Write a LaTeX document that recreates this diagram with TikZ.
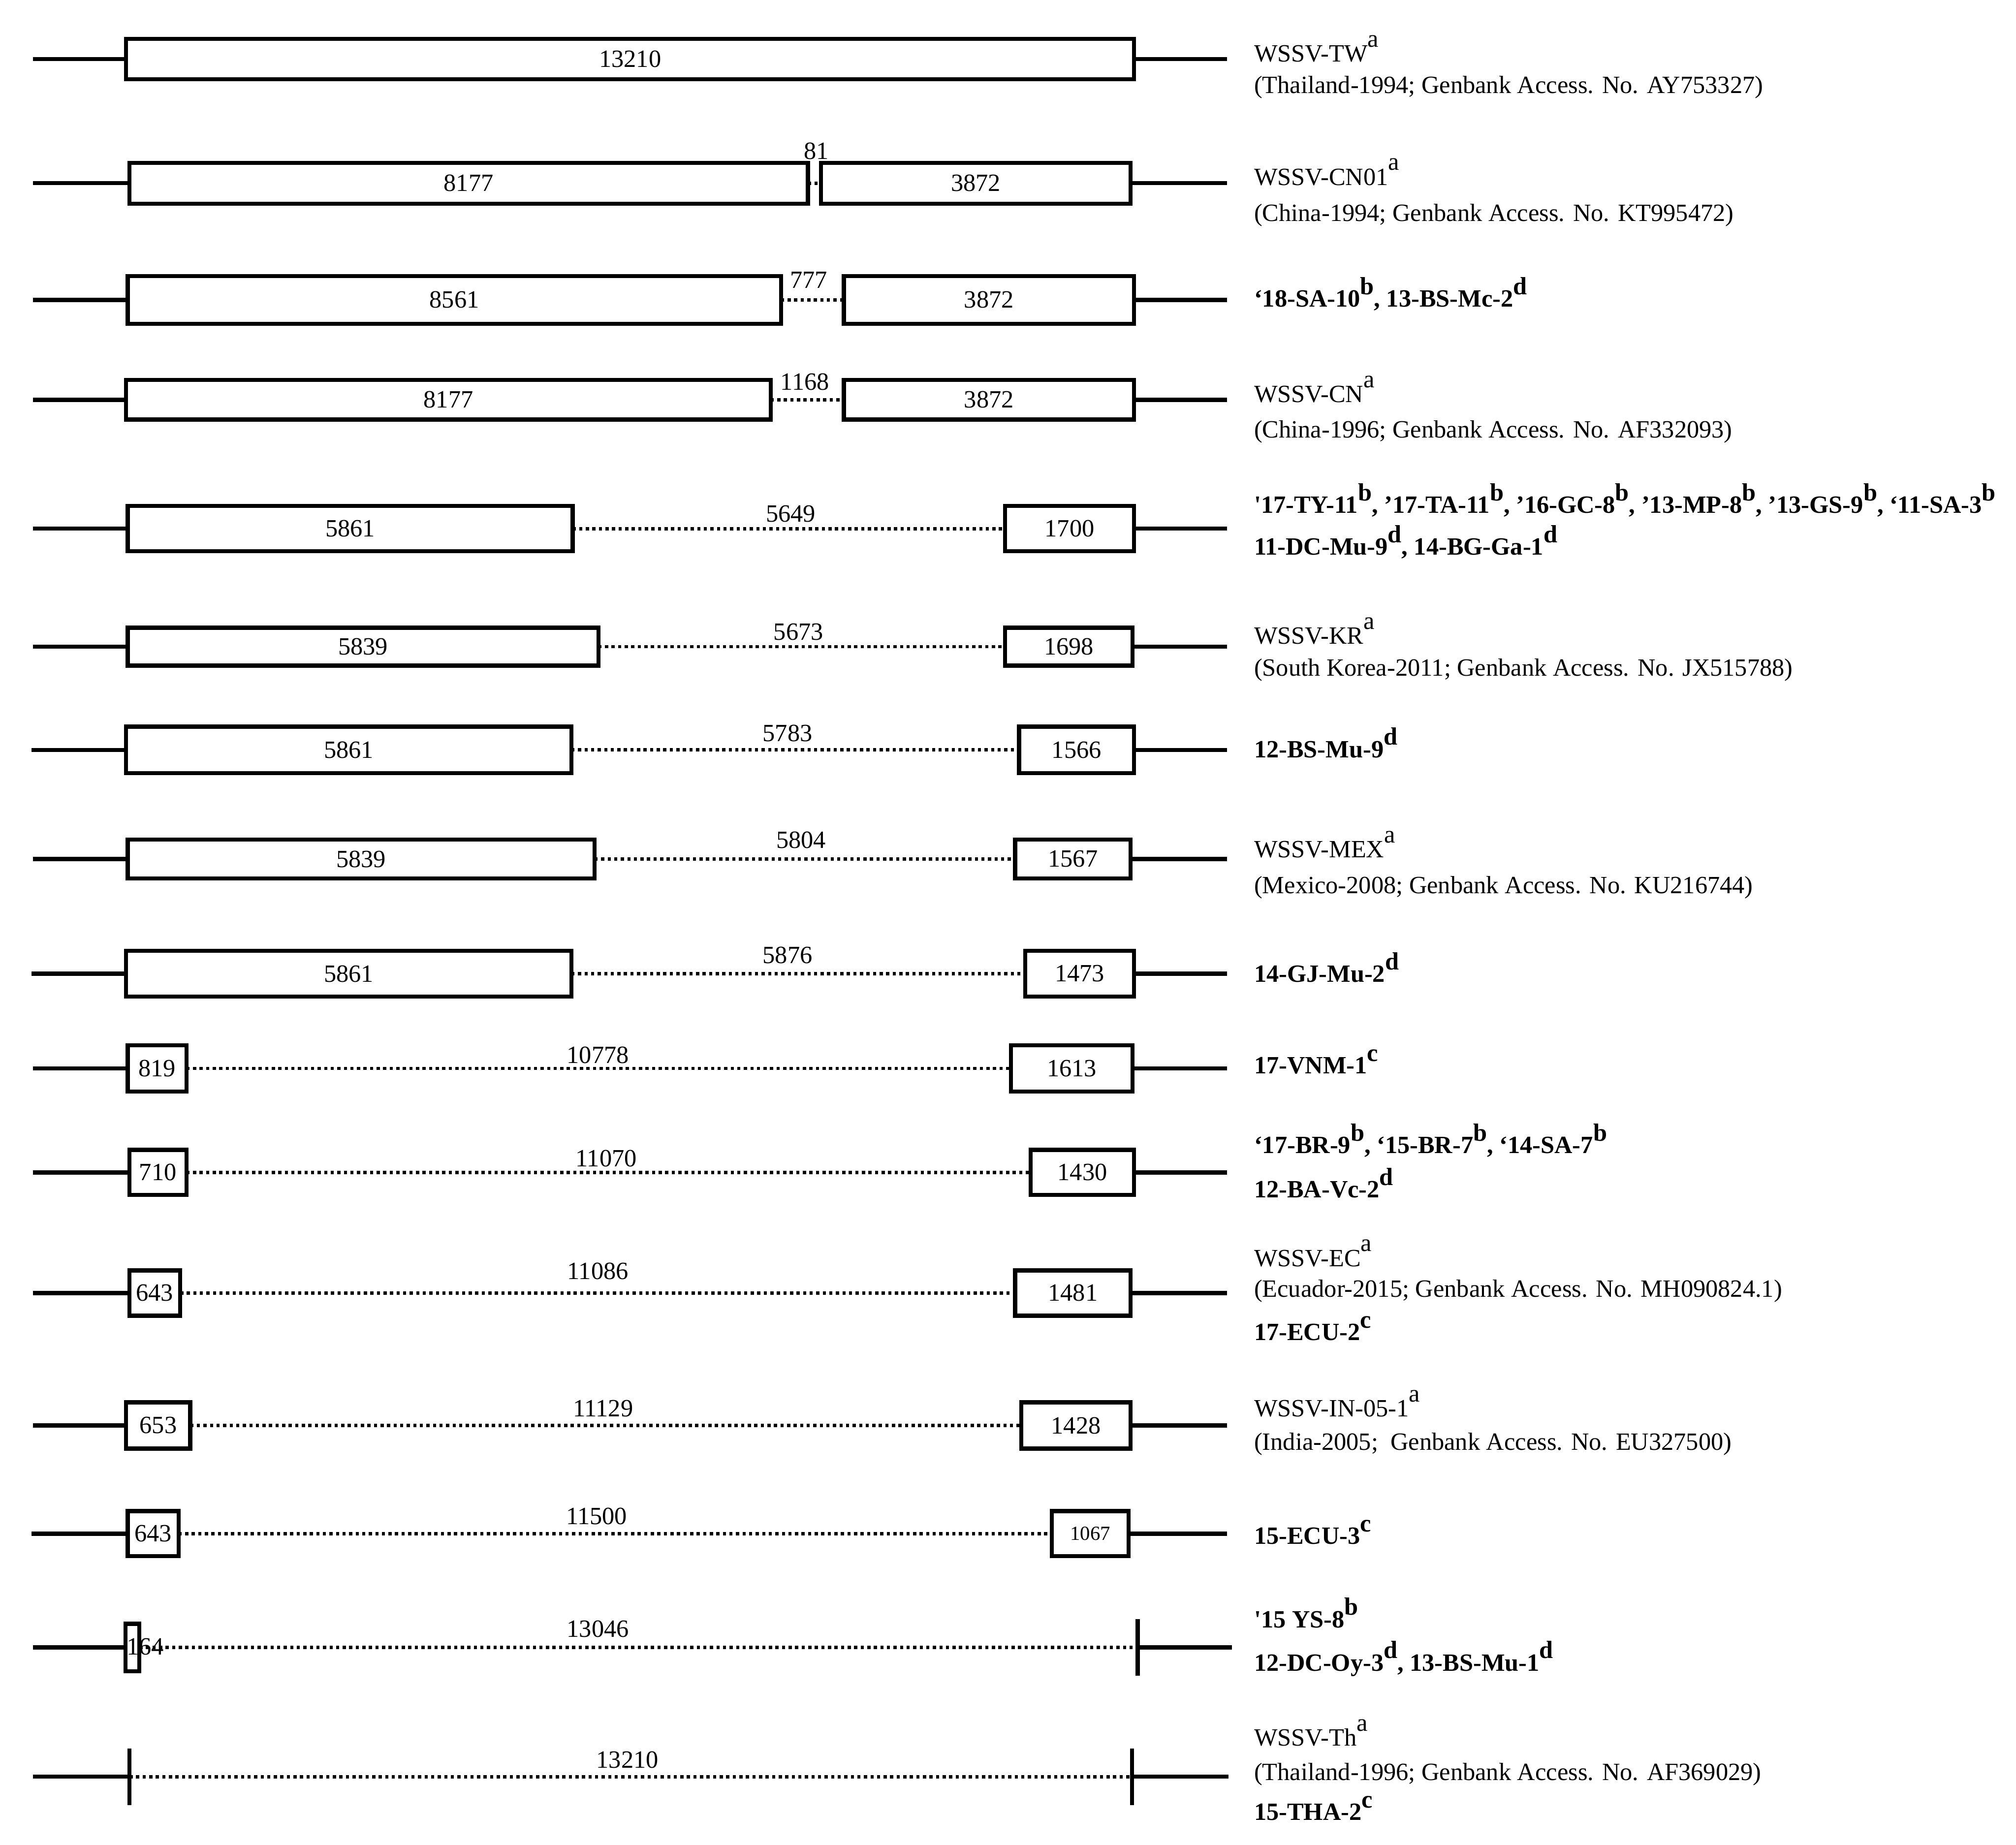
\documentclass[tikz,border=0pt]{standalone}
\usepackage{fontspec}
\setmainfont{Liberation Serif}[Ligatures=TeXOff]
\newcommand\gbox[6]{%
  \pgfmathsetmacro\gbw{(#3-#2)*0.5}%
  \pgfmathsetmacro\gbh{#5*0.5}%
  \pgfmathsetmacro\gbx{(#2+#3)/2}%
  \node[gbox,minimum width=\gbw pt,minimum height=\gbh pt] (#1) at (\gbx,#4) {#6};}
\newcommand\spa[1]{\raisebox{0.6em}{#1}}
\newcommand\spb[1]{\raisebox{0.5em}{#1}}
\begin{document}
\begin{tikzpicture}[x=0.5pt,y=-0.5pt,
  every node/.style={font=\fontsize{9.65}{11.6}\selectfont, inner sep=0pt},
  gbox/.style={draw, line width=1.6pt, outer sep=0pt},
  bb/.style={line width=1.6pt},
  dots/.style={line width=1.3pt, dash pattern=on 1.25pt off 1.3pt},
  tick/.style={line width=1.6pt},
  lab/.style={anchor=base west},
  blab/.style={anchor=base west, font=\fontsize{9.65}{11.6}\selectfont\bfseries},
  small/.style={font=\fontsize{7.8}{9}\selectfont}]
\useasboundingbox (0,0) rectangle (1568,1435);

% ---------- Row 1
\coordinate (l1) at (25.6,46); \coordinate (r1) at (954.5,46);
\gbox{b1}{98.1}{882.1}{46}{31.5}{13210}
\draw[bb] (l1) -- (b1.west); \draw[bb] (b1.east) -- (r1);
\node[lab] (t1a) at (975,48.2) {WSSV-TW\spa{a}};
\node[lab] (t1b) at (975,72.5) {(Thailand-1994; Genbank Access. No. AY753327)};

% ---------- Row 2
\coordinate (l2) at (25.6,142.5); \coordinate (r2) at (954.5,142.5);
\gbox{b2a}{100.6}{628.4}{142.5}{31.8}{8177}
\gbox{b2b}{638.6}{879.4}{142.5}{31.8}{3872}
\draw[bb] (l2) -- (b2a.west); \draw[dots] (b2a.east) -- (b2b.west); \draw[bb] (b2b.east) -- (r2);
\node (g2) at (635,117.7) {81};
\node[lab] (t2a) at (975,144) {WSSV-CN01\spa{a}};
\node[lab] (t2b) at (975,172) {(China-1994; Genbank Access. No. KT995472)};

% ---------- Row 3
\coordinate (l3) at (25.6,233.3); \coordinate (r3) at (954.5,233.3);
\gbox{b3a}{99.3}{607.4}{233.3}{37.3}{8561}
\gbox{b3b}{656.3}{882.1}{233.3}{37.3}{3872}
\draw[bb] (l3) -- (b3a.west); \draw[dots] (b3a.east) -- (b3b.west); \draw[bb] (b3b.east) -- (r3);
\node (g3) at (629,218) {777};
\node[blab] (t3a) at (975,238.6) {‘18-SA-10\spb{b}, 13-BS-Mc-2\spb{d}};

% ---------- Row 4
\coordinate (l4) at (25.6,311); \coordinate (r4) at (954.5,311);
\gbox{b4a}{98.1}{599.4}{311}{30.8}{8177}
\gbox{b4b}{656.3}{882.1}{311}{30.8}{3872}
\draw[bb] (l4) -- (b4a.west); \draw[dots] (b4a.east) -- (b4b.west); \draw[bb] (b4b.east) -- (r4);
\node (g4) at (626,297) {1168};
\node[lab] (t4a) at (975,313) {WSSV-CN\spa{a}};
\node[lab] (t4b) at (975,340.6) {(China-1996; Genbank Access. No. AF332093)};

% ---------- Row 5
\coordinate (l5) at (25.6,411.2); \coordinate (r5) at (954.5,411.2);
\gbox{b5a}{99.3}{445.4}{411.2}{35.2}{5861}
\gbox{b5b}{781.6}{882.1}{411.2}{35.2}{1700}
\draw[bb] (l5) -- (b5a.west); \draw[dots] (b5a.east) -- (b5b.west); \draw[bb] (b5b.east) -- (r5);
\node (g5) at (615,399.6) {5649};
\node[blab] (t5a) at (975,399) {'17-TY-11\spb{b}, ’17-TA-11\spb{b}, ’16-GC-8\spb{b}, ’13-MP-8\spb{b}, ’13-GS-9\spb{b}, ‘11-SA-3\spb{b}};
\node[blab] (t5b) at (975,431.6) {11-DC-Mu-9\spb{d}, 14-BG-Ga-1\spb{d}};

% ---------- Row 6
\coordinate (l6) at (25.6,503); \coordinate (r6) at (954.5,503);
\gbox{b6a}{99.3}{465.4}{503}{29.5}{5839}
\gbox{b6b}{781.6}{880.9}{503}{29.5}{1698}
\draw[bb] (l6) -- (b6a.west); \draw[dots] (b6a.east) -- (b6b.west); \draw[bb] (b6b.east) -- (r6);
\node (g6) at (621,491.4) {5673};
\node[lab] (t6a) at (975,500.9) {WSSV-KR\spa{a}};
\node[lab] (t6b) at (975,525.8) {(South Korea-2011; Genbank Access. No. JX515788)};

% ---------- Row 7
\coordinate (l7) at (24.4,583.3); \coordinate (r7) at (954.5,583.3);
\gbox{b7a}{98.1}{444.4}{583.3}{36.3}{5861}
\gbox{b7b}{792.6}{882.1}{583.3}{36.3}{1566}
\draw[bb] (l7) -- (b7a.west); \draw[dots] (b7a.east) -- (b7b.west); \draw[bb] (b7b.east) -- (r7);
\node (g7) at (612.5,570.5) {5783};
\node[blab] (t7a) at (975,589.2) {12-BS-Mu-9\spb{d}};

% ---------- Row 8
\coordinate (l8) at (25.6,668.2); \coordinate (r8) at (954.5,668.2);
\gbox{b8a}{99.3}{462.4}{668.2}{30.4}{5839}
\gbox{b8b}{789.6}{879.4}{668.2}{30.4}{1567}
\draw[bb] (l8) -- (b8a.west); \draw[dots] (b8a.east) -- (b8b.west); \draw[bb] (b8b.east) -- (r8);
\node (g8) at (623,653.6) {5804};
\node[lab] (t8a) at (975,667) {WSSV-MEX\spa{a}};
\node[lab] (t8b) at (975,695) {(Mexico-2008; Genbank Access. No. KU216744)};

% ---------- Row 9
\coordinate (l9) at (24.4,757.4); \coordinate (r9) at (954.5,757.4);
\gbox{b9a}{98.1}{444.4}{757.4}{35.5}{5861}
\gbox{b9b}{797.3}{882.1}{757.4}{35.5}{1473}
\draw[bb] (l9) -- (b9a.west); \draw[dots] (b9a.east) -- (b9b.west); \draw[bb] (b9b.east) -- (r9);
\node (g9) at (612.5,743) {5876};
\node[blab] (t9a) at (975,764) {14-GJ-Mu-2\spb{d}};

% ---------- Row 10
\coordinate (l10) at (25.6,831.1); \coordinate (r10) at (954.5,831.1);
\gbox{b10a}{99.3}{145}{831.1}{36}{819}
\gbox{b10b}{786.3}{880.9}{831.1}{36}{1613}
\draw[bb] (l10) -- (b10a.west); \draw[dots] (b10a.east) -- (b10b.west); \draw[bb] (b10b.east) -- (r10);
\node (g10) at (465,820.8) {10778};
\node[blab] (t10a) at (975,835) {17-VNM-1\spb{c}};

% ---------- Row 11
\coordinate (l11) at (25.6,912); \coordinate (r11) at (954.5,912);
\gbox{b11a}{100.6}{145}{912}{35.1}{710}
\gbox{b11b}{801.6}{882.1}{912}{35.1}{1430}
\draw[bb] (l11) -- (b11a.west); \draw[dots] (b11a.east) -- (b11b.west); \draw[bb] (b11b.east) -- (r11);
\node (g11) at (471.5,901) {11070};
\node[blab] (t11a) at (975,897) {‘17-BR-9\spb{b}, ‘15-BR-7\spb{b}, ‘14-SA-7\spb{b}};
\node[blab] (t11b) at (975,931.6) {12-BA-Vc-2\spb{d}};

% ---------- Row 12
\coordinate (l12) at (25.6,1005.8); \coordinate (r12) at (954.5,1005.8);
\gbox{b12a}{100.6}{140.1}{1005.8}{35.2}{643}
\gbox{b12b}{789.6}{879.4}{1005.8}{35.2}{1481}
\draw[bb] (l12) -- (b12a.west); \draw[dots] (b12a.east) -- (b12b.west); \draw[bb] (b12b.east) -- (r12);
\node (g12) at (465,988.6) {11086};
\node[lab] (t12a) at (975,985) {WSSV-EC\spa{a}};
\node[lab] (t12b) at (975,1009) {(Ecuador-2015; Genbank Access. No. MH090824.1)};
\node[blab] (t12c) at (975,1042.7) {17-ECU-2\spb{c}};

% ---------- Row 13
\coordinate (l13) at (25.6,1108.8); \coordinate (r13) at (954.5,1108.8);
\gbox{b13a}{98.1}{148}{1108.8}{35.9}{653}
\gbox{b13b}{794.3}{879.4}{1108.8}{35.9}{1428}
\draw[bb] (l13) -- (b13a.west); \draw[dots] (b13a.east) -- (b13b.west); \draw[bb] (b13b.east) -- (r13);
\node (g13) at (469,1095.7) {11129};
\node[lab] (t13a) at (975,1102) {WSSV-IN-05-1\spa{a}};
\node[lab] (t13b) at (975,1128) {(India-2005;\ \ Genbank Access. No. EU327500)};

% ---------- Row 14
\coordinate (l14) at (24.4,1193); \coordinate (r14) at (954.5,1193);
\gbox{b14a}{99.3}{138.9}{1193}{35.1}{643}
\gbox{b14b}{818.1}{877.8}{1193}{35.1}{\fontsize{7.8}{9}\selectfont 1067}
\draw[bb] (l14) -- (b14a.west); \draw[dots] (b14a.east) -- (b14b.west); \draw[bb] (b14b.east) -- (r14);
\node (g14) at (464,1179.6) {11500};
\node[blab] (t14a) at (975,1201) {15-ECU-3\spb{c}};

% ---------- Row 15
\coordinate (l15) at (25.6,1281.5); \coordinate (k15) at (884.8,1281.5); \coordinate (r15) at (958,1281.5);
\gbox{b15a}{97.6}{108.4}{1281.5}{36.8}{}
\draw[bb] (l15) -- (b15a.west); \draw[dots] (b15a.east) -- (k15); \draw[bb] (k15) -- (r15);
\draw[tick] ([yshift=10.95pt]k15) -- ([yshift=-10.95pt]k15);
\node (n15) at (113,1281) {164};
\node (g15) at (465,1267) {13046};
\node[blab] (t15a) at (975,1266) {'15 YS-8\spb{b}};
\node[blab] (t15b) at (975,1299.7) {12-DC-Oy-3\spb{d}, 13-BS-Mu-1\spb{d}};

% ---------- Row 16
\coordinate (l16) at (25.6,1382); \coordinate (k16a) at (100.7,1382);
\coordinate (k16b) at (880.4,1382); \coordinate (r16) at (955.5,1382);
\draw[bb] (l16) -- (k16a); \draw[dots] (k16a) -- (k16b); \draw[bb] (k16b) -- (r16);
\draw[tick] ([yshift=11pt]k16a) -- ([yshift=-11pt]k16a);
\draw[tick] ([yshift=11pt]k16b) -- ([yshift=-11pt]k16b);
\node (g16) at (488,1369) {13210};
\node[lab] (t16a) at (975,1358) {WSSV-Th\spa{a}};
\node[lab] (t16b) at (975,1384.8) {(Thailand-1996; Genbank Access. No. AF369029)};
\node[blab] (t16c) at (975,1416) {15-THA-2\spb{c}};
\end{tikzpicture}
\end{document}
